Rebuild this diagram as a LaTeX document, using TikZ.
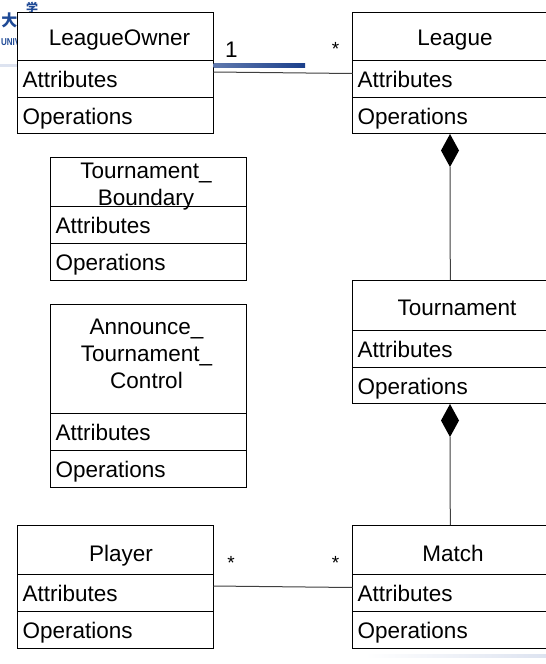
\documentclass[tikz,border=0pt]{standalone}
\usepackage{fontspec}
\setmainfont{Liberation Sans}
\newfontfamily\cjk{Noto Sans CJK SC}
\usetikzlibrary{shapes.geometric,positioning}
\definecolor{logoblue}{HTML}{1F4A96}
\definecolor{barblue}{HTML}{1B3F8B}
\definecolor{palebar}{HTML}{DDE3F0}
\tikzset{
  x=1pt,y=-1pt,
  cell/.style={draw=black,line width=1pt,fill=white,anchor=north west,inner sep=0pt,outer sep=0pt},
  rowtext/.style={anchor=base west,inner sep=0pt,font=\fontsize{22.5}{26}\selectfont},
  titletext/.style={anchor=center,inner sep=0pt,align=center,font=\fontsize{22.5}{27}\selectfont},
  titlebase/.style={anchor=base,inner sep=0pt,font=\fontsize{22.5}{27}\selectfont},
  assoc/.style={draw=black!75,line width=1pt},
  multi/.style={inner sep=0pt,font=\fontsize{22.5}{26}\selectfont},
  star/.style={inner sep=0pt,font=\fontsize{19}{22}\selectfont},
  comp/.style={diamond,fill=black,draw=none,inner sep=0pt,outer sep=0pt,minimum width=18pt,minimum height=33pt,shape aspect=.55}
}
% name, x, y0, y1, y2, y3, width
\newcommand{\classbox}[7]{%
  \node[cell,minimum width=#7pt,minimum height=\the\numexpr#4-#3\relax pt] (#1t) at (#2,#3) {};
  \node[cell,minimum width=#7pt,minimum height=\the\numexpr#5-#4\relax pt] (#1a) at (#2,#4) {};
  \node[cell,minimum width=#7pt,minimum height=\the\numexpr#6-#5\relax pt] (#1o) at (#2,#5) {};
  \node[rowtext] (#1al) at (#2+5,#4+27) {Attributes};
  \node[rowtext] (#1ol) at (#2+5,#5+27) {Operations};
}
\begin{document}
\begin{tikzpicture}
\useasboundingbox (0,0) rectangle (546,664);
\clip (0,0) rectangle (546,664);
\fill[white] (0,0) rectangle (546,664);
% background fragments
\fill[palebar] (0,64) rectangle (20,67);
\shade[left color=white,right color=palebar] (365,654) rectangle (546,657);
\node[inner sep=0pt,text=logoblue,font=\cjk\bfseries\fontsize{16}{16}\selectfont] (logoA) at (9.5,20) {大};
\node[inner sep=0pt,text=logoblue,font=\cjk\bfseries\fontsize{12}{12}\selectfont] (logoB) at (32,7.5) {学};
\node[anchor=base west,inner sep=0pt,text=logoblue,xscale=.8,font=\bfseries\fontsize{10}{10}\selectfont] (logoC) at (1,45.5) {UNIV};
% boxes
\classbox{owner}{17.5}{12}{60}{97}{133}{196}
\classbox{league}{352.5}{12}{60}{97}{133}{210}
\classbox{bound}{50.5}{157}{206}{243}{280}{196}
\classbox{ann}{50.5}{304}{413}{450}{487}{196}
\classbox{tour}{352.5}{280}{330}{367}{403}{210}
\classbox{player}{17.5}{525}{574}{611}{648}{196}
\classbox{match}{352.5}{525}{574}{611}{648}{210}
% titles
\node[titlebase] (ownerT) at (119.5,45) {LeagueOwner};
\node[titlebase] (leagueT) at (455,45) {League};
\node[titletext] (boundT) at (146,187) {Tournament\_\\Boundary};
\node[titletext] (annT) at (146.5,353.5) {Announce\_\\Tournament\_\\Control};
\node[titlebase] (tourT) at (457,315) {Tournament};
\node[titlebase] (playerT) at (121,561) {Player};
\node[titlebase] (matchT) at (453,561) {Match};
% blue bar
\shade[left color=barblue!70!white,right color=barblue] (ownert.south east |- 0,63.5) rectangle (305,67);
% connectors
\coordinate (ownerP) at (213.5,72);
\coordinate (leagueP) at (352.5,73.5);
\draw[assoc] (ownerP) -- (leagueP);
\node[comp] (d1) at (450,150.5) {};
\node[comp] (d2) at (450,420.5) {};
\coordinate (t1) at (450.3,280);
\coordinate (m1) at (450.3,525);
\draw[assoc] (d1.south) -- (t1);
\draw[assoc] (d2.south) -- (m1);
\coordinate (playerP) at (213.5,586);
\coordinate (matchP) at (352.5,587.5);
\draw[assoc] (playerP) -- (matchP);
% multiplicities
\node[multi] (m1l) at (231.5,50) {1};
\node[star] (m2l) at (335.5,49) {*};
\node[star] (m3l) at (231,563) {*};
\node[star] (m4l) at (335.5,563) {*};
\end{tikzpicture}
\end{document}
